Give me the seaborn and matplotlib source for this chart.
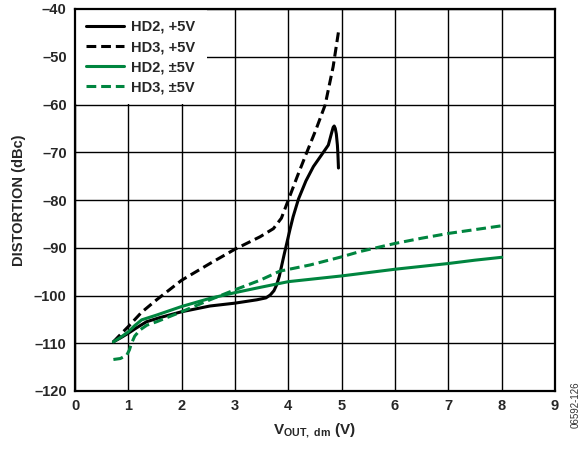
import matplotlib
matplotlib.use("Agg")
import matplotlib.pyplot as plt
from matplotlib.patches import Rectangle
import seaborn as sns
import pandas as pd

# ---- data ----
hd2_p5_x = [0.72, 0.85, 1.0, 1.15, 1.34, 1.6, 2.0, 2.53, 3.0, 3.41, 3.58, 3.66, 3.73, 3.78, 3.83, 3.87, 3.92, 3.97,
            4.03, 4.09, 4.19, 4.33, 4.47, 4.62, 4.75, 4.81, 4.84, 4.86, 4.88, 4.9, 4.92, 4.93, 4.94]
hd2_p5_y = [-109.7, -108.9, -107.9, -106.8, -105.5, -104.6, -103.4, -102.2, -101.6, -100.9, -100.5, -99.9, -99.0,
            -97.8, -96.0, -94.0, -91.5, -89.1, -86.2, -83.5, -79.8, -76.0, -73.0, -70.6, -68.5, -66.0, -64.8,
            -64.5, -65.0, -66.2, -68.5, -70.5, -73.3]

hd3_p5_x = [0.72, 0.85, 1.0, 1.25, 1.53, 2.0, 2.53, 3.0, 3.47, 3.72, 3.87, 4.0, 4.17, 4.34, 4.52, 4.69, 4.84, 4.94]
hd3_p5_y = [-109.7, -108.2, -106.5, -103.5, -100.9, -96.8, -93.3, -90.3, -87.7, -86.0, -83.8, -80.0, -75.0,
            -70.2, -65.2, -60.1, -52.1, -44.8]

hd2_pm5_x = [0.72, 0.85, 1.0, 1.12, 1.25, 1.53, 2.0, 2.53, 3.0, 3.47, 4.0, 4.5, 5.0, 5.5, 6.0, 6.5, 7.0, 7.5, 8.0]
hd2_pm5_y = [-109.7, -108.8, -107.6, -106.3, -105.1, -104.1, -102.3, -100.6, -99.4, -98.3, -97.1, -96.5, -95.9,
             -95.2, -94.5, -93.9, -93.3, -92.6, -92.0]

hd3_pm5_x = [0.72, 0.85, 0.97, 1.02, 1.06, 1.12, 1.22, 1.35, 1.53, 2.0, 2.53, 3.0, 3.47, 3.84, 4.41, 5.0, 5.34,
             6.0, 6.5, 7.0, 7.5, 8.0]
hd3_pm5_y = [-113.4, -113.2, -112.5, -111.4, -110.0, -108.5, -107.2, -106.2, -105.5, -103.4, -100.9, -98.8,
             -96.8, -94.9, -93.6, -91.9, -90.8, -89.1, -88.0, -87.0, -86.2, -85.4]

series_labels = ["HD2, +5V", "HD3, +5V", "HD2, \u00b15V", "HD3, \u00b15V"]
x_ticks = [0, 1, 2, 3, 4, 5, 6, 7, 8, 9]
y_ticks = [-120, -110, -100, -90, -80, -70, -60, -50, -40]

GREEN = "#00853F"

sns.set_theme(style="white")
plt.rcParams["font.family"] = ["Liberation Sans", "DejaVu Sans"]
plt.rcParams["mathtext.fontset"] = "custom"
plt.rcParams["mathtext.rm"] = "Liberation Sans:bold"
plt.rcParams["mathtext.it"] = "Liberation Sans:bold"
plt.rcParams["mathtext.bf"] = "Liberation Sans:bold"

fig = plt.figure(figsize=(5.87, 4.5), dpi=100)
ax = fig.add_axes([75 / 587, 1 - 391 / 450, (555 - 75) / 587, (391 - 9) / 450])

specs = [
    (hd2_p5_x, hd2_p5_y, "black", "-"),
    (hd3_p5_x, hd3_p5_y, "black", (0, (3.2, 1.6))),
    (hd2_pm5_x, hd2_pm5_y, GREEN, "-"),
    (hd3_pm5_x, hd3_pm5_y, GREEN, (0, (3.2, 1.6))),
]
for (xs, ys, col, ls), lab in zip(specs, series_labels):
    df = pd.DataFrame({"x": xs, "y": ys})
    sns.lineplot(data=df, x="x", y="y", ax=ax, color=col, linestyle=ls, linewidth=2.2,
                 sort=False, estimator=None, label=lab, zorder=3)

ax.set_xlim(0, 9)
ax.set_ylim(-120, -40)
ax.set_xticks(x_ticks)
ax.set_yticks(y_ticks)
ax.set_xticklabels([str(t) for t in x_ticks], fontsize=10.5, fontweight="bold")
ax.set_yticklabels([str(t).replace("-", "\u2013") for t in y_ticks], fontsize=10.5, fontweight="bold")
ax.tick_params(axis="both", length=0, pad=6)
ax.grid(True, color="black", linewidth=1.0)
ax.set_axisbelow(True)
for s in ax.spines.values():
    s.set_color("black")
    s.set_linewidth(1.6)

# white block behind the legend, covering the grid (as in the reference)
ax.add_patch(Rectangle((0, 1 - (104 - 9) / 382), (207 - 75) / 480, (104 - 9) / 382,
                       transform=ax.transAxes, facecolor="white", edgecolor="none", zorder=1))

ax.set_xlabel(r"$\mathrm{V_{OUT,\ dm}}$ (V)", fontsize=11, fontweight="bold", labelpad=6)
ax.set_ylabel("DISTORTION (dBc)", fontsize=10.5, fontweight="bold", labelpad=6)

leg = ax.legend(loc="upper left", bbox_to_anchor=(0.0, 1.0), borderaxespad=0.0, fontsize=10.5, frameon=False,
                handlelength=2.6, handletextpad=0.5, borderpad=0.75, labelspacing=0.42)
for t in leg.get_texts():
    t.set_fontweight("bold")
leg.set_zorder(5)

fig.text(576 / 587, 1 - 405 / 450, "06592-126", rotation=90, fontsize=7, ha="center", va="center",
         color="#333333")

fig.savefig("out.png", dpi=100)
